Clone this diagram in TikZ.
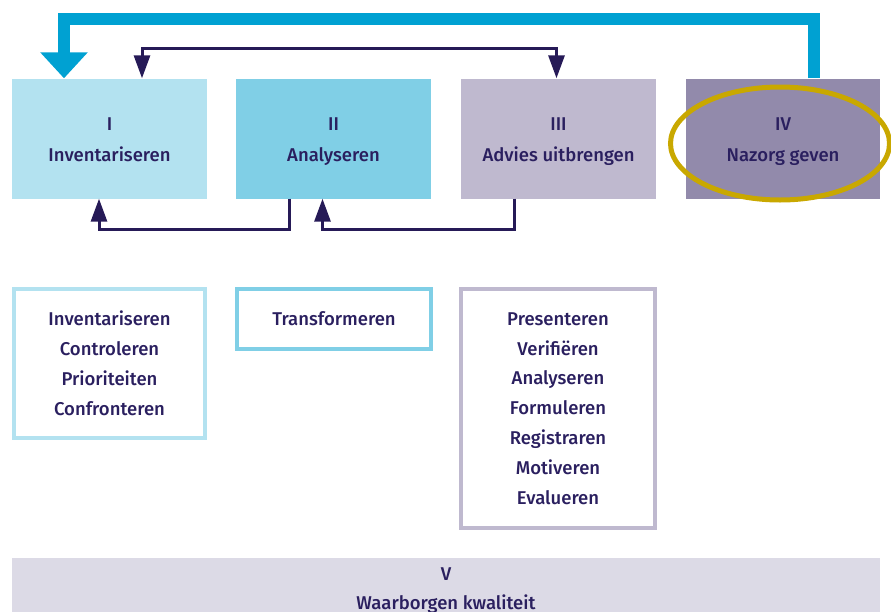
\documentclass[tikz,border=0pt]{standalone}
\usepackage{fontspec}
\setmainfont{Fira Sans}[UprightFont={* Medium}]
\usetikzlibrary{arrows.meta,shapes.geometric}
\definecolor{cI}{HTML}{B3E2F0}
\definecolor{cII}{HTML}{80CFE6}
\definecolor{cIII}{HTML}{BFB9CF}
\definecolor{cIV}{HTML}{928AAB}
\definecolor{cV}{HTML}{DCDAE6}
\definecolor{bigblue}{HTML}{00A1D2}
\definecolor{navy}{HTML}{261A57}
\definecolor{txt}{HTML}{2A1F5F}
\definecolor{gold}{HTML}{C9A800}
\newcommand{\toptwo}[2]{\rule{0pt}{19.8pt}#1\\#2\rule[-5pt]{0pt}{5pt}}
\newcommand{\bottwo}[2]{\rule{0pt}{16.8pt}#1\\#2\rule[-5pt]{0pt}{5pt}}
\tikzset{
  phasebox/.style={rectangle, inner sep=0pt, minimum width=195, minimum height=120, align=center, text=txt, font=\fontsize{18.5}{31}\selectfont},
  listbox/.style={rectangle, draw, line width=4pt, inner sep=0pt, fill=white, align=center, text=txt, font=\fontsize{18.5}{29.85}\selectfont},
  navyarrow/.style={draw=navy, line width=3pt, -{Triangle[width=16pt,length=23pt]}},
  bigarrow/.style={draw=bigblue, line width=12.5pt, -{Triangle[width=46pt,length=26pt]}},
}
\begin{document}
\begin{tikzpicture}[x=1pt,y=-1pt]
\useasboundingbox (0,0) rectangle (891,611);
% phase boxes
\node[phasebox, fill=cI] (b1) at (109.5,138.5) {\toptwo{I}{Inventariseren}};
\node[phasebox, fill=cII] (b2) at (333.5,138.5) {\toptwo{II}{Analyseren}};
\node[phasebox, fill=cIII] (b3) at (558.5,138.5) {\toptwo{III}{Advies uitbrengen}};
\node[phasebox, fill=cIV, minimum width=194] (b4) at (783,138.5) {\toptwo{IV}{Nazorg geven}};
\node[ellipse, draw=gold, line width=5pt, minimum width=219, minimum height=113, inner sep=0pt] (ell) at (780,143.5) {};
% big feedback arrow
\draw[bigarrow] ([xshift=31pt]b4.north) -- ++(0,-59.5) -| ([xshift=-45.5pt]b1.north);
% navy arrows
\draw[navyarrow, {Triangle[width=16pt,length=23pt]}-{Triangle[width=16pt,length=23pt]}] ([xshift=32.5pt]b1.north) -- ++(0,-29.5) -| ([xshift=-2pt]b3.north);
\draw[navyarrow] ([xshift=-44pt]b2.south) -- ++(0,31) -| ([xshift=-10.5pt]b1.south);
\draw[navyarrow] ([xshift=-44pt]b3.south) -- ++(0,31) -| ([xshift=-11pt]b2.south);
% list boxes
\node[listbox, draw=cI, minimum width=191, minimum height=149] (l1) at (109.5,363.5) {Inventariseren\\Controleren\\Prioriteiten\\Confronteren};
\node[listbox, draw=cII, minimum width=194, minimum height=60] (l2) at (334,319) {Transformeren};
\node[listbox, draw=cIII, minimum width=194, minimum height=239] (l3) at (558,408.5) {Presenteren\\Verifiëren\\Analyseren\\Formuleren\\Registraren\\Motiveren\\Evalueren};
% bottom box
\node[phasebox, fill=cV, minimum width=868, minimum height=62, font=\fontsize{18.5}{29}\selectfont] (b5) at (446,589) {\bottwo{V}{Waarborgen kwaliteit}};
\end{tikzpicture}
\end{document}
